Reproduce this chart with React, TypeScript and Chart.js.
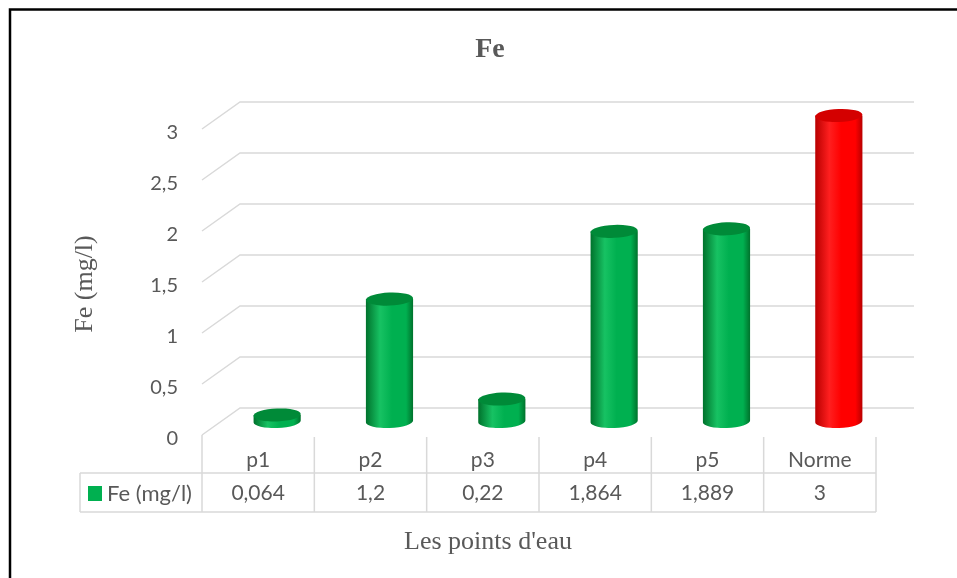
import React, { useEffect, useRef } from "react";
import { Chart, registerables } from "chart.js";

Chart.register(...registerables);

const categories = ["p1", "p2", "p3", "p4", "p5", "Norme"];
const feValues = [0.064, 1.2, 0.22, 1.864, 1.889, 3];
const valueLabels = ["0,064", "1,2", "0,22", "1,864", "1,889", "3"];
const yTickValues = [0, 0.5, 1, 1.5, 2, 2.5, 3];
const yTickLabels = ["0", "0,5", "1", "1,5", "2", "2,5", "3"];
const barColorKeys = ["green", "green", "green", "green", "green", "red"];
const seriesName = "Fe (mg/l)";
const chartTitle = "Fe";
const xAxisTitle = "Les points d'eau";
const yAxisTitle = "Fe (mg/l)";

const palette: Record<string, { dark: string; mid: string; light: string; top: string }> = {
  green: { dark: "#00722c", mid: "#00b050", light: "#17c263", top: "#008a38" },
  red: { dark: "#b80000", mid: "#ff0000", light: "#ff1f1f", top: "#d40000" },
};

const DEPTH_X = 38;
const DEPTH_Y = 27;
const TEXT = "#595959";
const GRID = "#d9d9d9";
const SANS = "Lato, 'Open Sans', sans-serif";
const SERIF = "'Liberation Serif', 'DejaVu Serif', serif";

const excel3d = {
  id: "excel3d",
  beforeDatasetsDraw(chart: any) {
    const { ctx, chartArea, scales } = chart;
    const { left, right, bottom } = chartArea;
    const x = scales.x;
    const y = scales.y;
    ctx.save();

    // outer frame (top and left edges visible)
    ctx.strokeStyle = "#000";
    ctx.lineWidth = 2.5;
    ctx.beginPath();
    ctx.moveTo(10, 600);
    ctx.lineTo(10, 9.5);
    ctx.lineTo(1000, 9.5);
    ctx.stroke();

    // 3D gridlines
    ctx.strokeStyle = GRID;
    ctx.lineWidth = 1.5;
    yTickValues.forEach((v) => {
      const yy = y.getPixelForValue(v);
      ctx.beginPath();
      ctx.moveTo(left, yy);
      ctx.lineTo(left + DEPTH_X, yy - DEPTH_Y);
      ctx.lineTo(right + DEPTH_X, yy - DEPTH_Y);
      ctx.stroke();
    });

    // y tick labels
    ctx.fillStyle = TEXT;
    ctx.font = `20px ${SANS}`;
    ctx.textAlign = "right";
    ctx.textBaseline = "middle";
    yTickValues.forEach((v, i) => {
      ctx.fillText(yTickLabels[i], left - 24, y.getPixelForValue(v) + 4);
    });

    // data table
    const n = categories.length;
    const colW = (right - left) / n;
    const headTop = bottom + 2;
    const rowTop = bottom + 38;
    const rowBottom = bottom + 77;
    const tableLeft = 80;
    ctx.strokeStyle = GRID;
    ctx.lineWidth = 1.5;
    ctx.beginPath();
    ctx.moveTo(left, bottom);
    ctx.lineTo(left, rowBottom);
    for (let i = 0; i < n; i++) {
      const xr = x.getPixelForValue(i) + colW / 2;
      ctx.moveTo(xr, headTop);
      ctx.lineTo(xr, rowBottom);
    }
    ctx.moveTo(tableLeft, rowTop);
    ctx.lineTo(right, rowTop);
    ctx.moveTo(tableLeft, rowBottom);
    ctx.lineTo(right, rowBottom);
    ctx.moveTo(tableLeft, rowTop);
    ctx.lineTo(tableLeft, rowBottom);
    ctx.stroke();

    ctx.fillStyle = TEXT;
    ctx.font = `21px ${SANS}`;
    ctx.textAlign = "center";
    ctx.textBaseline = "middle";
    categories.forEach((c, i) => {
      const cx = x.getPixelForValue(i);
      ctx.fillText(c, cx, rowTop - 13);
      ctx.fillText(valueLabels[i], cx, (rowTop + rowBottom) / 2 + 1);
    });

    // legend key in table
    ctx.fillStyle = palette.green.mid;
    ctx.fillRect(88, rowTop + 13, 14, 15);
    ctx.fillStyle = TEXT;
    ctx.font = `22px ${SANS}`;
    ctx.textAlign = "left";
    ctx.fillText(seriesName, 107, (rowTop + rowBottom) / 2 + 1);

    // titles
    ctx.font = `bold 28px ${SERIF}`;
    ctx.textAlign = "center";
    ctx.fillText(chartTitle, 490, 50);
    ctx.font = `26px ${SERIF}`;
    ctx.textBaseline = "alphabetic";
    ctx.fillText(xAxisTitle, 488, 549);
    ctx.save();
    ctx.translate(85, 284);
    ctx.rotate(-Math.PI / 2);
    ctx.textBaseline = "middle";
    ctx.fillText(yAxisTitle, 0, 0);
    ctx.restore();

    ctx.restore();
  },
  afterDatasetsDraw(chart: any) {
    const { ctx } = chart;
    const meta = chart.getDatasetMeta(0);
    ctx.save();
    meta.data.forEach((el: any, i: number) => {
      const p = palette[barColorKeys[i]];
      const cx = el.x + DEPTH_X / 2;
      const topY = el.y - DEPTH_Y / 2;
      const baseY = el.base - DEPTH_Y / 2;
      const rx = el.width / 2;
      const ry = 6.5;
      const rot = -0.04;
      const g = ctx.createLinearGradient(cx - rx, 0, cx + rx, 0);
      g.addColorStop(0, p.dark);
      g.addColorStop(0.3, p.light);
      g.addColorStop(0.55, p.mid);
      g.addColorStop(0.85, p.mid);
      g.addColorStop(1, p.dark);
      ctx.fillStyle = g;
      ctx.beginPath();
      ctx.moveTo(cx - rx, topY);
      ctx.lineTo(cx - rx, baseY);
      ctx.ellipse(cx, baseY, rx, ry, rot, Math.PI, 0, true);
      ctx.lineTo(cx + rx, topY);
      ctx.closePath();
      ctx.fill();
      ctx.fillStyle = p.top;
      ctx.beginPath();
      ctx.ellipse(cx, topY, rx, ry, rot, 0, Math.PI * 2);
      ctx.fill();
    });
    ctx.restore();
  },
};

export default function App() {
  const canvasRef = useRef<HTMLCanvasElement | null>(null);
  useEffect(() => {
    const canvas = canvasRef.current;
    if (!canvas) return;
    const chart = new Chart(canvas, {
      type: "bar",
      data: {
        labels: categories,
        datasets: [
          {
            label: seriesName,
            data: feValues,
            backgroundColor: "rgba(0,0,0,0)",
            borderWidth: 0,
            barPercentage: 0.42,
            categoryPercentage: 1,
          },
        ],
      },
      options: {
        responsive: false,
        animation: false,
        devicePixelRatio: 1,
        layout: { padding: { left: 202, right: 81, top: 129, bottom: 143 } },
        plugins: {
          legend: { display: false },
          title: { display: false },
          tooltip: { enabled: false },
        },
        scales: {
          x: { display: false, offset: true },
          y: { display: false, min: 0, max: 3 },
        },
      },
      plugins: [excel3d],
    });
    return () => chart.destroy();
  }, []);
  return (
    <div style={{ position: "fixed", left: 0, top: 0, width: 957, height: 578, background: "#fff", overflow: "hidden" }}>
      <canvas ref={canvasRef} width={957} height={578} style={{ display: "block", width: 957, height: 578 }} />
    </div>
  );
}
